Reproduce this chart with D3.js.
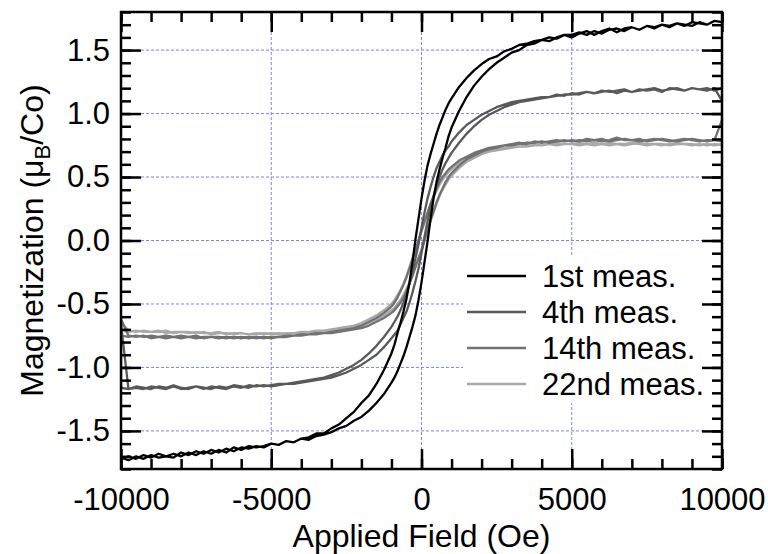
<!DOCTYPE html>
<html><head><meta charset="utf-8">
<script src="https://cdn.jsdelivr.net/npm/d3@7"></script>
<style>html,body{margin:0;padding:0;background:#fff;} svg{display:block;}</style>
</head><body>
<svg id="chart" width="768" height="554"></svg>
<script>
// ---------- DATA ----------
const fieldOe = [-10000,-9750,-9500,-9250,-9000,-8750,-8500,-8250,-8000,-7750,-7500,-7250,-7000,-6750,-6500,-6250,-6000,-5750,-5500,-5250,-5000,-4750,-4500,-4250,-4000,-3750,-3500,-3250,-3000,-2750,-2500,-2250,-2000,-1750,-1500,-1250,-1000,
 -900,-800,-700,-600,-500,-400,-300,-200,-100,0,100,200,300,400,500,600,700,800,900,
 1000,1250,1500,1750,2000,2250,2500,2750,3000,3250,3500,3750,4000,4250,4500,4750,5000,5250,5500,5750,6000,6250,6500,6750,7000,7250,7500,7750,8000,8250,8500,8750,9000,9250,9500,9750,10000];

// 1st measurement: descending branch (+H -> -H) and ascending branch (-H -> +H), values at fieldOe
const meas1Down = [-1.72,-1.70,-1.72,-1.69,-1.71,-1.68,-1.70,-1.71,-1.67,-1.69,-1.66,-1.68,-1.65,-1.67,-1.64,-1.66,-1.63,-1.64,-1.62,-1.63,-1.60,-1.61,-1.58,-1.59,-1.56,-1.55,-1.52,-1.52,-1.48,-1.45,-1.40,-1.35,-1.28,-1.22,-1.13,-1.02,-0.89,
 -0.82,-0.73,-0.65,-0.56,-0.46,-0.33,-0.17,0.01,0.17,0.33,0.47,0.59,0.68,0.76,0.84,0.91,0.97,1.03,1.08,
 1.12,1.21,1.28,1.34,1.39,1.43,1.45,1.49,1.51,1.54,1.55,1.57,1.58,1.60,1.59,1.62,1.62,1.64,1.62,1.65,1.63,1.66,1.67,1.65,1.68,1.66,1.69,1.67,1.70,1.68,1.71,1.70,1.69,1.72,1.70,1.73,1.72];
const meas1Up = [-1.71,-1.73,-1.70,-1.72,-1.69,-1.71,-1.70,-1.68,-1.70,-1.67,-1.69,-1.66,-1.68,-1.65,-1.67,-1.63,-1.65,-1.62,-1.63,-1.62,-1.60,-1.61,-1.58,-1.59,-1.56,-1.57,-1.54,-1.53,-1.51,-1.48,-1.46,-1.42,-1.39,-1.34,-1.28,-1.21,-1.12,
 -1.08,-1.03,-0.97,-0.91,-0.84,-0.76,-0.68,-0.59,-0.47,-0.33,-0.17,-0.01,0.17,0.33,0.46,0.56,0.65,0.73,0.82,
 0.89,1.02,1.13,1.22,1.29,1.35,1.40,1.44,1.48,1.50,1.54,1.55,1.58,1.57,1.60,1.62,1.60,1.63,1.65,1.62,1.65,1.67,1.64,1.67,1.68,1.66,1.69,1.68,1.70,1.69,1.71,1.69,1.72,1.71,1.70,1.73,1.72];

const meas4Down = [-1.16,-1.17,-1.15,-1.16,-1.17,-1.15,-1.16,-1.14,-1.16,-1.17,-1.15,-1.16,-1.17,-1.15,-1.16,-1.14,-1.15,-1.16,-1.14,-1.15,-1.14,-1.13,-1.13,-1.12,-1.11,-1.10,-1.09,-1.08,-1.06,-1.04,-1.01,-0.98,-0.94,-0.89,-0.83,-0.76,-0.68,
 -0.64,-0.60,-0.55,-0.49,-0.42,-0.34,-0.25,-0.14,-0.03,0.10,0.22,0.33,0.42,0.50,0.57,0.62,0.67,0.71,0.74,
 0.78,0.85,0.91,0.95,0.99,1.02,1.05,1.07,1.09,1.10,1.11,1.12,1.13,1.13,1.15,1.14,1.16,1.15,1.17,1.16,1.17,1.18,1.16,1.18,1.17,1.19,1.18,1.19,1.17,1.20,1.19,1.18,1.20,1.19,1.18,1.20,1.10];
const meas4Up = [-0.66,-1.17,-1.16,-1.17,-1.15,-1.16,-1.17,-1.15,-1.17,-1.16,-1.15,-1.17,-1.15,-1.16,-1.17,-1.15,-1.16,-1.14,-1.15,-1.14,-1.15,-1.14,-1.13,-1.13,-1.12,-1.11,-1.10,-1.09,-1.08,-1.06,-1.04,-1.01,-0.98,-0.94,-0.90,-0.84,-0.77,
 -0.74,-0.71,-0.66,-0.61,-0.56,-0.49,-0.41,-0.32,-0.22,-0.10,0.03,0.15,0.26,0.35,0.43,0.50,0.56,0.61,0.65,
 0.69,0.77,0.84,0.90,0.95,0.99,1.02,1.05,1.07,1.09,1.10,1.11,1.12,1.13,1.14,1.15,1.15,1.16,1.17,1.16,1.18,1.17,1.18,1.19,1.17,1.18,1.19,1.20,1.18,1.19,1.20,1.18,1.20,1.19,1.20,1.18,1.20];

const meas14Down = [-0.75,-0.76,-0.75,-0.76,-0.75,-0.76,-0.77,-0.76,-0.75,-0.76,-0.77,-0.76,-0.76,-0.77,-0.76,-0.77,-0.76,-0.77,-0.76,-0.77,-0.76,-0.76,-0.75,-0.75,-0.74,-0.74,-0.73,-0.73,-0.72,-0.71,-0.70,-0.69,-0.67,-0.64,-0.61,-0.57,-0.52,
 -0.49,-0.45,-0.40,-0.35,-0.29,-0.22,-0.15,-0.08,0.00,0.08,0.15,0.22,0.29,0.35,0.41,0.46,0.50,0.53,0.56,
 0.58,0.63,0.66,0.69,0.71,0.73,0.74,0.75,0.76,0.77,0.76,0.78,0.77,0.78,0.79,0.78,0.79,0.78,0.80,0.79,0.78,0.79,0.81,0.79,0.79,0.80,0.78,0.79,0.80,0.79,0.78,0.79,0.80,0.79,0.78,0.79,0.95];
const meas14Up = [-0.62,-0.75,-0.76,-0.75,-0.77,-0.76,-0.75,-0.76,-0.77,-0.76,-0.75,-0.77,-0.76,-0.76,-0.77,-0.76,-0.77,-0.76,-0.77,-0.76,-0.77,-0.76,-0.76,-0.75,-0.75,-0.74,-0.74,-0.73,-0.73,-0.72,-0.71,-0.70,-0.69,-0.67,-0.64,-0.61,-0.57,
 -0.55,-0.52,-0.49,-0.45,-0.40,-0.34,-0.28,-0.21,-0.14,-0.08,0.00,0.09,0.16,0.23,0.30,0.36,0.41,0.46,0.50,
 0.53,0.59,0.64,0.67,0.70,0.72,0.73,0.75,0.75,0.76,0.77,0.77,0.78,0.77,0.78,0.79,0.78,0.79,0.78,0.79,0.80,0.78,0.79,0.80,0.79,0.78,0.79,0.80,0.79,0.78,0.79,0.80,0.79,0.78,0.79,0.79,0.78];

const meas22Down = [-0.71,-0.72,-0.71,-0.72,-0.72,-0.71,-0.73,-0.72,-0.72,-0.73,-0.72,-0.73,-0.73,-0.72,-0.74,-0.73,-0.73,-0.74,-0.73,-0.74,-0.73,-0.74,-0.73,-0.73,-0.72,-0.72,-0.71,-0.71,-0.70,-0.69,-0.68,-0.67,-0.65,-0.62,-0.59,-0.55,-0.50,
 -0.47,-0.43,-0.39,-0.34,-0.28,-0.21,-0.14,-0.07,0.00,0.07,0.14,0.21,0.28,0.34,0.39,0.44,0.48,0.51,0.54,
 0.56,0.61,0.64,0.67,0.69,0.71,0.72,0.73,0.74,0.74,0.75,0.76,0.75,0.76,0.77,0.76,0.76,0.77,0.76,0.75,0.76,0.77,0.76,0.75,0.76,0.77,0.76,0.76,0.75,0.76,0.77,0.76,0.76,0.75,0.76,0.75,0.76];
const meas22Up = [-0.64,-0.71,-0.72,-0.71,-0.72,-0.72,-0.71,-0.73,-0.72,-0.72,-0.73,-0.72,-0.74,-0.73,-0.73,-0.74,-0.73,-0.74,-0.74,-0.73,-0.74,-0.73,-0.74,-0.73,-0.73,-0.72,-0.72,-0.71,-0.71,-0.70,-0.69,-0.68,-0.67,-0.65,-0.62,-0.59,-0.55,
 -0.53,-0.50,-0.47,-0.43,-0.38,-0.33,-0.27,-0.20,-0.14,-0.07,0.00,0.08,0.15,0.22,0.29,0.35,0.40,0.44,0.48,
 0.51,0.57,0.62,0.65,0.68,0.70,0.71,0.72,0.73,0.74,0.74,0.75,0.75,0.76,0.75,0.76,0.76,0.75,0.76,0.77,0.76,0.75,0.76,0.76,0.77,0.76,0.75,0.76,0.76,0.75,0.76,0.76,0.75,0.76,0.75,0.76,0.75];

const seriesNames = ["1st meas.", "4th meas.", "14th meas.", "22nd meas."];
const seriesColors = ["#000000", "#595959", "#727272", "#a9a9a9"];
const xMajorTicks = [-10000, -5000, 0, 5000, 10000];
const yMajorTicks = [-1.5, -1.0, -0.5, 0.0, 0.5, 1.0, 1.5];
const xGridValues = [-5000, 0, 5000];
const xAxisTitle = "Applied Field (Oe)";

// ---------- LAYOUT ----------
const svg = d3.select("#chart");
const X0 = 121, X1 = 722, Y0 = 12, Y1 = 469;
const x = d3.scaleLinear().domain([-10000, 10000]).range([X0, X1]);
const y = d3.scaleLinear().domain([-1.8, 1.8]).range([Y1, Y0]);
const FONT = "'Liberation Sans', Arial, Helvetica, sans-serif";

svg.append("rect").attr("width", 768).attr("height", 554).attr("fill", "#fff");

// grid
const grid = svg.append("g").attr("stroke", "#7f7fff").attr("stroke-width", 1).attr("stroke-dasharray", "3,2");
grid.selectAll("line.gx").data(xGridValues).join("line")
  .attr("x1", d => x(d)).attr("x2", d => x(d)).attr("y1", Y0).attr("y2", Y1);
grid.selectAll("line.gy").data(yMajorTicks).join("line")
  .attr("y1", d => y(d)).attr("y2", d => y(d)).attr("x1", X0).attr("x2", X1);

// curves
svg.append("clipPath").attr("id", "clip").append("rect")
  .attr("x", X0).attr("y", Y0).attr("width", X1 - X0).attr("height", Y1 - Y0);

const branches = [
  [meas1Down, meas1Up], [meas4Down, meas4Up], [meas14Down, meas14Up], [meas22Down, meas22Up]
];
const line = d3.line().x(d => x(d[0])).y(d => y(d[1]));
const curves = svg.append("g").attr("clip-path", "url(#clip)");
[3, 2, 1, 0].forEach(i => {
  const [down, up] = branches[i];
  const pts = [];
  for (let k = fieldOe.length - 1; k >= 0; k--) pts.push([fieldOe[k], down[k]]);
  for (let k = 0; k < fieldOe.length; k++) pts.push([fieldOe[k], up[k]]);
  curves.append("path").datum(pts)
    .attr("fill", "none").attr("stroke", seriesColors[i])
    .attr("stroke-width", 2.3).attr("stroke-linejoin", "round")
    .attr("d", line);
});

// legend
const lg = svg.append("g");
lg.append("rect").attr("x", 463).attr("y", 257).attr("width", 255).attr("height", 146).attr("fill", "#fff");
seriesNames.forEach((name, i) => {
  const ly = 276 + i * 36;
  lg.append("line").attr("x1", 467).attr("x2", 526).attr("y1", ly).attr("y2", ly)
    .attr("stroke", seriesColors[i]).attr("stroke-width", 2.6);
  lg.append("text").attr("x", 542).attr("y", ly).attr("dy", "0.35em")
    .attr("font-family", FONT).attr("font-size", 31).attr("fill", "#000").text(name);
});

// axes (ticks inward)
function styleAxis(g) {
  g.select(".domain").remove();
  g.selectAll(".tick line").attr("stroke", "#000").attr("stroke-width", 2.5);
  g.selectAll(".tick text").attr("font-family", FONT).attr("font-size", 31).attr("fill", "#000");
}
const xMinor = d3.range(-10000, 10001, 1000);
const yMinor = d3.range(-18, 19).map(v => v / 10);

svg.append("g").attr("transform", `translate(0,${Y1})`)
  .call(d3.axisBottom(x).tickValues(xMinor).tickSize(-10).tickFormat("")).call(styleAxis);
svg.append("g").attr("transform", `translate(0,${Y1})`)
  .call(d3.axisBottom(x).tickValues(xMajorTicks).tickSize(-20).tickPadding(19).tickFormat(d3.format("d"))).call(styleAxis);
svg.append("g").attr("transform", `translate(0,${Y0})`)
  .call(d3.axisTop(x).tickValues(xMinor).tickSize(-10).tickFormat("")).call(styleAxis);
svg.append("g").attr("transform", `translate(0,${Y0})`)
  .call(d3.axisTop(x).tickValues(xMajorTicks).tickSize(-20).tickFormat("")).call(styleAxis);

svg.append("g").attr("transform", `translate(${X0},0)`)
  .call(d3.axisLeft(y).tickValues(yMinor).tickSize(-10).tickFormat("")).call(styleAxis);
svg.append("g").attr("transform", `translate(${X0},0)`)
  .call(d3.axisLeft(y).tickValues(yMajorTicks).tickSize(-20).tickPadding(11).tickFormat(d3.format(".1f"))).call(styleAxis);
svg.append("g").attr("transform", `translate(${X1},0)`)
  .call(d3.axisRight(y).tickValues(yMinor).tickSize(-10).tickFormat("")).call(styleAxis);
svg.append("g").attr("transform", `translate(${X1},0)`)
  .call(d3.axisRight(y).tickValues(yMajorTicks).tickSize(-20).tickFormat("")).call(styleAxis);

// hyphen-minus like the original
svg.selectAll(".tick text").each(function() {
  const t = d3.select(this); t.text(t.text().replace("\u2212", "-"));
});

// frame
svg.append("rect").attr("x", X0).attr("y", Y0).attr("width", X1 - X0).attr("height", Y1 - Y0)
  .attr("fill", "none").attr("stroke", "#000").attr("stroke-width", 2.5);

// axis titles
svg.append("text").attr("x", (X0 + X1) / 2).attr("y", 547).attr("text-anchor", "middle")
  .attr("font-family", FONT).attr("font-size", 32).text(xAxisTitle);
const yt = svg.append("text").attr("transform", `translate(43,${(Y0 + Y1) / 2}) rotate(-90)`)
  .attr("text-anchor", "middle").attr("font-family", FONT).attr("font-size", 32);
yt.append("tspan").text("Magnetization (\u03bc");
yt.append("tspan").attr("font-size", 22).attr("dy", 7).text("B");
yt.append("tspan").attr("dy", -7).text("/Co)");
</script>
</body></html>
